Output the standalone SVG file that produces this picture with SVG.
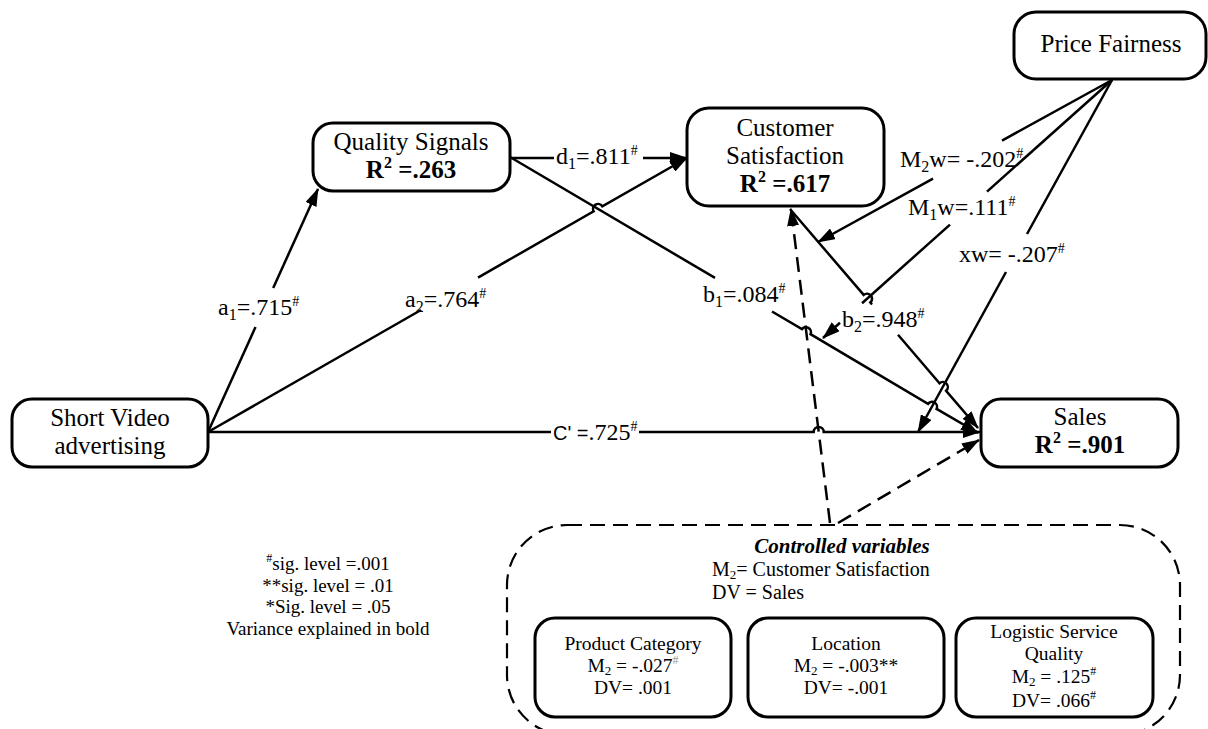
<svg xmlns="http://www.w3.org/2000/svg" width="1208" height="729" viewBox="0 0 1208 729">
<defs>
<style>
.box{fill:#fff;stroke:#000;stroke-width:3}
.cbox{fill:none;stroke:#000;stroke-width:2.2;stroke-dasharray:15 8}
.ln{fill:none;stroke:#000;stroke-width:2.5}
.ds{fill:none;stroke:#000;stroke-width:2.5;stroke-dasharray:15 8}
.t{font-family:"Liberation Serif","Times New Roman",serif;fill:#000}
.n{font-size:25px;text-anchor:middle}
.nb{font-size:25px;text-anchor:middle;font-weight:bold}
.lb{font-size:24px}
.s{font-size:20px}
.i{font-size:19.5px;text-anchor:middle}
.lg{font-size:19px;text-anchor:middle}
.sub{font-size:16px}
.sup{font-size:14px}
</style>
<marker id="ah" markerUnits="userSpaceOnUse" markerWidth="18" markerHeight="12" refX="17" refY="6" orient="auto">
<path d="M0,0 L18,6 L0,12 z" fill="#000"/>
</marker>
</defs>

<g id="node-short-video">
<rect class="box" x="12" y="399" width="196" height="68" rx="20"/>
<text class="t n" x="110" y="426">Short Video</text>
<text class="t n" x="110" y="454">advertising</text>
</g>

<g id="node-quality-signals">
<rect class="box" x="313" y="123" width="197" height="68" rx="20"/>
<text class="t n" x="411" y="150">Quality Signals</text>
<text class="t nb" x="411" y="178">R<tspan dy="-10" font-size="16">2</tspan><tspan dy="10"> =.263</tspan></text>
</g>

<g id="node-customer-satisfaction">
<rect class="box" x="687" y="108" width="197" height="98" rx="22"/>
<text class="t n" x="785" y="136">Customer</text>
<text class="t n" x="785" y="164">Satisfaction</text>
<text class="t nb" x="785" y="192">R<tspan dy="-10" font-size="16">2</tspan><tspan dy="10"> =.617</tspan></text>
</g>

<g id="node-price-fairness">
<rect class="box" x="1014" y="12" width="192" height="67" rx="22"/>
<text class="t n" x="1111" y="52">Price Fairness</text>
</g>

<g id="node-sales">
<rect class="box" x="981" y="399" width="197" height="68" rx="20"/>
<text class="t n" x="1080" y="425">Sales</text>
<text class="t nb" x="1080" y="453">R<tspan dy="-10" font-size="16">2</tspan><tspan dy="10"> =.901</tspan></text>
</g>

<g id="node-controlled">
<rect class="cbox" x="507" y="525" width="673" height="210" rx="60"/>
<text class="t" x="842" y="553" font-size="21" font-weight="bold" font-style="italic" text-anchor="middle">Controlled variables</text>
<text class="t s" x="712" y="576">M<tspan font-size="13" dy="3">2</tspan><tspan dy="-3">= Customer Satisfaction</tspan></text>
<text class="t s" x="712" y="599">DV = Sales</text>
</g>

<g id="node-product-category">
<rect class="box" x="535" y="618" width="196" height="99" rx="20"/>
<text class="t i" x="633" y="650">Product Category</text>
<text class="t i" x="633" y="672">M<tspan font-size="13" dy="3">2</tspan><tspan dy="-3"> = -.027</tspan><tspan font-size="12" dy="-8" fill="#999">#</tspan></text>
<text class="t i" x="633" y="694">DV= .001</text>
</g>

<g id="node-location">
<rect class="box" x="748" y="618" width="196" height="99" rx="20"/>
<text class="t i" x="846" y="650">Location</text>
<text class="t i" x="846" y="672">M<tspan font-size="13" dy="3">2</tspan><tspan dy="-3"> = -.003**</tspan></text>
<text class="t i" x="846" y="694">DV= -.001</text>
</g>

<g id="node-logistic">
<rect class="box" x="956" y="618" width="197" height="99" rx="20"/>
<text class="t i" x="1054" y="638">Logistic Service</text>
<text class="t i" x="1054" y="660">Quality</text>
<text class="t i" x="1054" y="683">M<tspan font-size="13" dy="3">2</tspan><tspan dy="-3"> = .125</tspan><tspan font-size="12" dy="-8">#</tspan></text>
<text class="t i" x="1054" y="707">DV= .066<tspan font-size="12" dy="-8">#</tspan></text>
</g>

<g id="legend">
<text class="t lg" x="328" y="570"><tspan font-size="12" dy="-8">#</tspan><tspan dy="8">sig. level =.001</tspan></text>
<text class="t lg" x="328" y="591.5">**sig. level = .01</text>
<text class="t lg" x="328" y="613">*Sig. level = .05</text>
<text class="t lg" x="328" y="635">Variance explained in bold</text>
</g>

<g id="connectors">
<path class="ln" d="M208,432 L255.5,327"/>
<path class="ln" d="M273.2,288 L318,189" marker-end="url(#ah)"/>
<path class="ln" d="M208,432 L421,310"/>
<path class="ln" d="M478,277.6 L593.66,211.38 A5,5 0 0 1 602.34,206.42 L687,158" marker-end="url(#ah)"/>
<path class="ln" d="M510,158 L554,158"/>
<path class="ln" d="M643,158 L687,158" marker-end="url(#ah)"/>
<path class="ln" d="M510,157 L715,277.9"/>
<path class="ln" d="M772,311.5 L801.9,329.2 A5,5 0 0 1 810.5,334.2 L928,403.9 A5,5 0 0 1 936.6,408.9 L978,433" marker-end="url(#ah)"/>
<path class="ln" d="M790,209 L863.7,294.9 A5,5 0 0 1 870.3,302.5 L872,304.5"/>
<path class="ln" d="M898,334.8 L939.5,383.2 A5,5 0 0 1 946.1,390.8 L978,428" marker-end="url(#ah)"/>
<path class="ln" d="M208,432 L551,432"/>
<path class="ln" d="M639,432 L813.7,432 A5,5 0 0 1 823.7,432 L980,432" marker-end="url(#ah)"/>
<path class="ln" d="M1112,80 L1002,140.6"/>
<path class="ln" d="M933,178.6 L818,242" marker-end="url(#ah)"/>
<path class="ln" d="M1112,80 L987,191.6"/>
<path class="ln" d="M950,224.6 L862,303.2"/>
<path class="ln" d="M840,322.8 L823,338" marker-end="url(#ah)"/>
<path class="ln" d="M1112,80 L1027,234"/>
<path class="ln" d="M1006,272 L918,432" marker-end="url(#ah)"/>
<path class="ds" d="M830,523 L791,209" marker-end="url(#ah)"/>
<path class="ds" d="M838,523 L979,440" marker-end="url(#ah)"/>

<text class="t lb" x="218" y="315">a<tspan class="sub" dy="5">1</tspan><tspan dy="-5">=.715</tspan><tspan class="sup" dy="-9">#</tspan></text>
<text class="t lb" x="405" y="307">a<tspan class="sub" dy="5">2</tspan><tspan dy="-5">=.764</tspan><tspan class="sup" dy="-9">#</tspan></text>
<text class="t lb" x="556" y="164">d<tspan class="sub" dy="5">1</tspan><tspan dy="-5">=.811</tspan><tspan class="sup" dy="-9">#</tspan></text>
<text class="t lb" x="703" y="302">b<tspan class="sub" dy="5">1</tspan><tspan dy="-5">=.084</tspan><tspan class="sup" dy="-9">#</tspan></text>
<text class="t lb" x="842" y="327">b<tspan class="sub" dy="5">2</tspan><tspan dy="-5">=.948</tspan><tspan class="sup" dy="-9">#</tspan></text>
<text class="t lb" x="900" y="167">M<tspan class="sub" dy="5">2</tspan><tspan dy="-5">w= -.202</tspan><tspan class="sup" dy="-9">#</tspan></text>
<text class="t lb" x="908" y="215">M<tspan class="sub" dy="5">1</tspan><tspan dy="-5">w=.111</tspan><tspan class="sup" dy="-9">#</tspan></text>
<text class="t lb" x="959" y="262">xw= -.207<tspan class="sup" dy="-9">#</tspan></text>
<text class="t lb" x="553" y="440"><tspan font-family="Liberation Sans, Arial, sans-serif" font-size="20">C' =</tspan>.725<tspan class="sup" dy="-9">#</tspan></text>
</g>
</svg>
